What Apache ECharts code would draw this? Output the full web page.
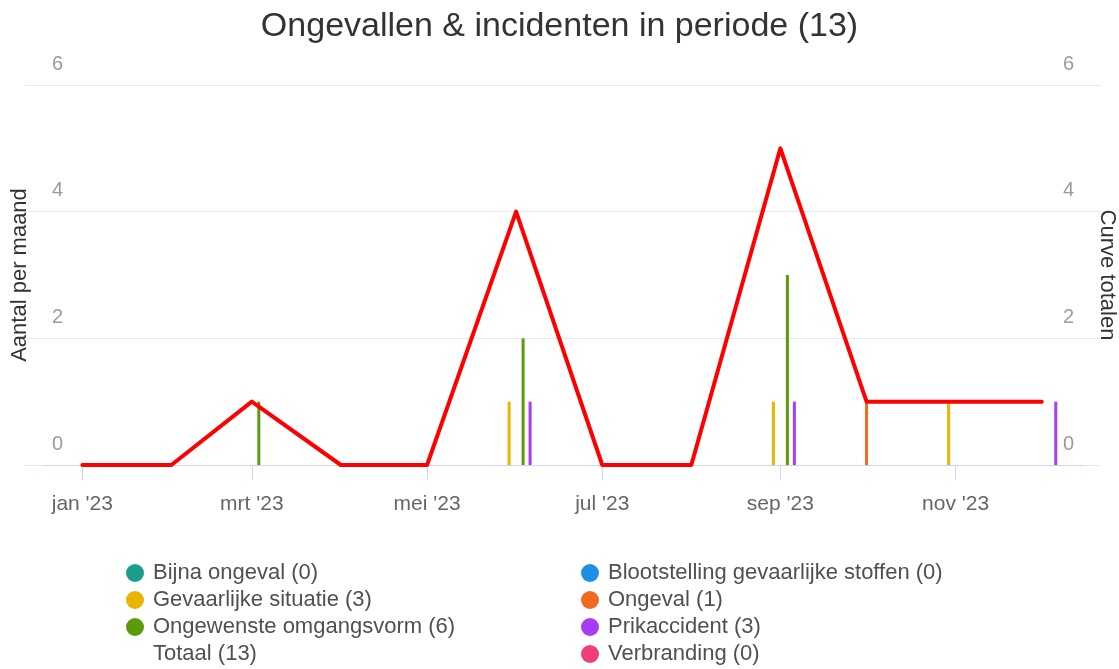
<!DOCTYPE html>
<html>
<head>
<meta charset="utf-8">
<script src="https://cdn.jsdelivr.net/npm/echarts@6/dist/echarts.min.js"></script>
<style>
html,body{margin:0;padding:0;background:#fff;}
#chart{width:1119px;height:669px;}
</style>
</head>
<body>
<div id="chart"></div>
<script>
// ---- data ----
const months = ['2023-01-01','2023-02-01','2023-03-01','2023-04-01','2023-05-01','2023-06-01',
                '2023-07-01','2023-08-01','2023-09-01','2023-10-01','2023-11-01','2023-12-01'];
const bijnaOngeval        = [0,0,0,0,0,0,0,0,0,0,0,0];
const blootstelling       = [0,0,0,0,0,0,0,0,0,0,0,0];
const gevaarlijkeSituatie = [0,0,0,0,0,1,0,0,1,0,1,0];
const ongeval             = [0,0,0,0,0,0,0,0,0,1,0,0];
const ongewensteOmgang    = [0,0,1,0,0,2,0,0,3,0,0,0];
const prikaccident        = [0,0,0,0,0,1,0,0,1,0,0,1];
const verbranding         = [0,0,0,0,0,0,0,0,0,0,0,0];
const totaal              = [0,0,1,0,0,4,0,0,5,1,1,1];

const barNames  = ['Bijna ongeval','Blootstelling gevaarlijke stoffen','Gevaarlijke situatie','Ongeval',
                   'Ongewenste omgangsvorm','Prikaccident','Verbranding'];
const barValues = [bijnaOngeval, blootstelling, gevaarlijkeSituatie, ongeval, ongewensteOmgang, prikaccident, verbranding];
const barColors = ['#1a9f8f','#1e8fe6','#e8b500','#f26a1f','#5b9a0b','#a83cf4','#f03f78'];
const totalName = 'Totaal';
const xTickDates  = ['2023-01-01','2023-03-01','2023-05-01','2023-07-01','2023-09-01','2023-11-01'];
const xTickLabels = ["jan '23","mrt '23","mei '23","jul '23","sep '23","nov '23"];
const yTicks = [0,2,4,6];

// ---- build ----
const ts = s => Date.parse(s + 'T00:00:00Z');
const sum = a => a.reduce((p,c)=>p+c,0);
const grand = sum(totaal);
const labelOf = (n, vals) => n + ' (' + sum(vals) + ')';
const tickTs = xTickDates.map(ts);
const yMin = yTicks[0], yMax = yTicks[yTicks.length-1], yStep = yTicks[1]-yTicks[0];

const font = 'Liberation Sans, Arial, sans-serif';

const series = barNames.map((n,i)=>({
  name: labelOf(n, barValues[i]),
  type: 'bar',
  xAxisIndex: 0, yAxisIndex: 0,
  barWidth: 3,
  barGap: '133%',
  itemStyle: {color: barColors[i]},
  data: months.map((m,j)=>[ts(m), barValues[i][j]]),
  z: 2
}));
series.push({
  name: labelOf(totalName, totaal),
  type: 'line',
  xAxisIndex: 0, yAxisIndex: 1,
  symbol: 'none',
  lineStyle: {color: '#ff0000', width: 4, cap: 'round', join: 'round'},
  itemStyle: {color: '#ff0000'},
  data: months.map((m,j)=>[ts(m), totaal[j]]),
  z: 5
});

const legendTextStyle = {fontFamily: font, fontSize: 22, color: '#505050', padding: [0,0,0,4]};
const names = series.map(s=>s.name);
const leftLegend = [names[0], names[2], names[4], {name: names[7], icon: 'circle', itemStyle: {color: 'rgba(0,0,0,0)'}}];
const rightLegend = [names[1], names[3], names[5], names[6]];

const chart = echarts.init(document.getElementById('chart'), null, {renderer: 'canvas'});
chart.setOption({
  animation: false,
  backgroundColor: '#ffffff',
  title: {
    text: 'Ongevallen & incidenten in periode (' + grand + ')',
    left: 'center', top: 5,
    textStyle: {fontFamily: font, fontSize: 34, fontWeight: 'normal', color: '#333333'}
  },
  grid: [
    {left: 45, right: 37, top: 85, bottom: 204, outerBoundsMode: 'none'},
    {left: 25, right: 19, top: 85, bottom: 204, outerBoundsMode: 'none'}
  ],
  legend: [
    {orient: 'vertical', left: 126, top: 562, padding: 0, itemWidth: 18, itemHeight: 18, itemGap: 5,
     icon: 'circle', textStyle: legendTextStyle, data: leftLegend},
    {orient: 'vertical', left: 581, top: 562, padding: 0, itemWidth: 18, itemHeight: 18, itemGap: 5,
     icon: 'circle', textStyle: legendTextStyle, data: rightLegend}
  ],
  xAxis: [
    {
      type: 'value', gridIndex: 0,
      min: ts('2022-12-19'), max: ts('2023-12-15'),
      axisLine: {show: true, onZero: false, lineStyle: {color: '#ccd6eb'}},
      axisTick: {show: true, length: 15, lineStyle: {color: '#ccd6eb'}, customValues: tickTs},
      axisLabel: {
        customValues: tickTs, margin: 29, showMinLabel: true, showMaxLabel: true, hideOverlap: false,
        fontFamily: font, fontSize: 21, color: '#666666',
        formatter: v => { const i = tickTs.indexOf(v); return i >= 0 ? xTickLabels[i] : ''; }
      },
      splitLine: {show: false},
      z: 3
    },
    {
      type: 'value', gridIndex: 1, show: false, min: 0, max: 1
    }
  ],
  yAxis: [
    {
      type: 'value', gridIndex: 0, min: yMin, max: yMax, interval: yStep,
      name: 'Aantal per maand', nameLocation: 'middle', nameGap: 14,
      nameTextStyle: {fontFamily: font, fontSize: 22, color: '#333333'},
      axisLine: {show: false}, axisTick: {show: false},
      axisLabel: {inside: true, margin: 7, verticalAlign: 'bottom', padding: [0,0,11,0],
                  fontFamily: font, fontSize: 20, color: '#9a9a9a'},
      splitLine: {show: false}
    },
    {
      type: 'value', gridIndex: 0, min: yMin, max: yMax, interval: yStep,
      position: 'right',
      name: 'Curve totalen', nameLocation: 'middle', nameGap: 14, nameRotate: -90,
      nameTextStyle: {fontFamily: font, fontSize: 22, color: '#333333'},
      axisLine: {show: false}, axisTick: {show: false},
      axisLabel: {inside: true, margin: 8, verticalAlign: 'bottom', padding: [0,0,11,0],
                  fontFamily: font, fontSize: 20, color: '#9a9a9a'},
      splitLine: {show: false}
    },
    {
      type: 'value', gridIndex: 1, min: yMin, max: yMax, interval: yStep,
      axisLine: {show: false}, axisTick: {show: false}, axisLabel: {show: false},
      splitLine: {lineStyle: {color: '#e6e6e6', width: 1}},
      z: 0
    }
  ],
  series: series
});
</script>
</body>
</html>
